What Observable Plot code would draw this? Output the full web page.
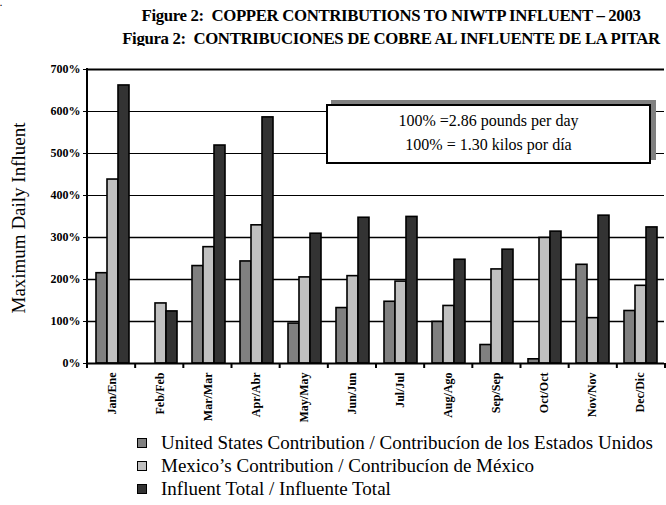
<!DOCTYPE html>
<html>
<head>
<meta charset="utf-8">
<script src="https://cdn.jsdelivr.net/npm/d3@7"></script>
<script src="https://cdn.jsdelivr.net/npm/@observablehq/plot@0.6"></script>
<style>
  html, body { margin: 0; padding: 0; background: #fff; }
  #page { position: relative; width: 666px; height: 505px; font-family: "Liberation Serif", "Times New Roman", serif; color: #000; }
  #dot { position: absolute; left: 0; top: 0; font-size: 8px; line-height: 8px; font-weight: bold; }
  #title { position: absolute; left: 90px; width: 602px; top: 4px; text-align: center; font-weight: bold; font-size: 16.8px; line-height: 23px; letter-spacing: -0.35px; }
  #chart { position: absolute; left: 0; top: 46px; }
  #ytitle { position: absolute; left: 19px; top: 218px; transform: translate(-50%, -50%) rotate(-90deg); white-space: nowrap; font-size: 19px; }
  #note { position: absolute; left: 326px; top: 104px; width: 321px; height: 53px; border: 2px solid #000; background: #fff; box-shadow: 5px -4px 0 #808080; text-align: center; font-size: 16px; line-height: 24px; padding-top: 3px; box-sizing: content-box; }
  #legend { position: absolute; left: 137px; top: 431px; font-size: 19px; line-height: 23px; }
  .item { display: flex; align-items: center; white-space: nowrap; }
  .sw { width: 8px; height: 8px; border: 1.5px solid #000; margin-right: 14px; flex: none; }
</style>
</head>
<body>
<div id="page">
  <div id="dot">.</div>
  <div id="title"></div>
  <div id="chart"></div>
  <div id="ytitle"></div>
  <div id="note"></div>
  <div id="legend"></div>
</div>
<script>
// Monthly copper contributions, as % of the 100% reference load
const months = ["Jan/Ene", "Feb/Feb", "Mar/Mar", "Apr/Abr", "May/May", "Jun/Jun",
                "Jul/Jul", "Aug/Ago", "Sep/Sep", "Oct/Oct", "Nov/Nov", "Dec/Dic"];
const seriesKeys = ["us", "mx", "total"];
const seriesLabels = [
  "United States Contribution / Contribucíon de los Estados Unidos",
  "Mexico’s Contribution / Contribucíon de México",
  "Influent Total / Influente Total"
];
const seriesColors = ["#808080", "#c0c0c0", "#333333"];
const usValues    = [215, 0, 232, 243, 95, 132, 147, 99, 44, 10, 235, 125];
const mexicoValues = [438, 143, 277, 329, 205, 208, 195, 137, 224, 299, 108, 185];
const totalValues = [662, 124, 519, 586, 309, 347, 349, 247, 271, 314, 352, 324];
const yTicks = [0, 100, 200, 300, 400, 500, 600, 700];
const titleLines = [
  "Figure 2:&nbsp; COPPER CONTRIBUTIONS TO NIWTP INFLUENT – 2003",
  "Figura 2:&nbsp; CONTRIBUCIONES DE COBRE AL INFLUENTE DE LA PITAR"
];
const yTitle = "Maximum Daily Influent";
const noteLines = ["100% =2.86 pounds per day", "100% = 1.30 kilos por día"];

const seriesValues = [usValues, mexicoValues, totalValues];
const rows = months.flatMap((m, i) =>
  seriesKeys.map((k, j) => ({month: m, series: k, value: seriesValues[j][i]})));

const serif = "'Liberation Serif', 'Times New Roman', serif";

const chart = Plot.plot({
  width: 666,
  height: 392,
  marginTop: 23,
  marginLeft: 87,
  marginRight: 1,
  marginBottom: 75,
  style: {fontFamily: serif, background: "white", color: "black", overflow: "visible"},
  fx: {domain: months, padding: 0, label: null},
  x: {domain: seriesKeys, paddingInner: 0, paddingOuter: 0.55, axis: null},
  y: {domain: [0, 700], axis: null},
  color: {domain: seriesKeys, range: seriesColors},
  marks: [
    Plot.ruleY(yTicks.filter(v => v >= 400 && v < 700), {stroke: "black", strokeWidth: 1}),
    Plot.ruleY(yTicks.filter(v => v > 0 && v < 400), {stroke: "black", strokeWidth: 1.6}),
    Plot.ruleY([700], {stroke: "black", strokeWidth: 2}),
    Plot.barY(rows, {fx: "month", x: "series", y: "value", fill: "series",
                     stroke: "black", strokeWidth: 1.6}),
    Plot.ruleY([0], {stroke: "black", strokeWidth: 2}),
    Plot.axisY({ticks: yTicks, tickFormat: d => `${d}%`, tickSize: 5, tickPadding: 3,
                tickStrokeWidth: 2, fontSize: 12, fontWeight: "bold", label: null}),
    Plot.axisFx({anchor: "bottom", tickSize: 0, tickRotate: -90, tickPadding: 9,
                 fontSize: 12, fontWeight: "bold", label: null})
  ]
});

// Left axis line and the month-boundary ticks below the baseline
const svg = d3.select(chart);
const ys = chart.scale("y");
const fxs = chart.scale("fx");
const yScale = d3.scaleLinear(ys.domain, ys.range);
const fxScale = d3.scaleBand(fxs.domain, fxs.range)
  .paddingInner(fxs.paddingInner ?? 0)
  .paddingOuter(fxs.paddingOuter ?? 0)
  .align(fxs.align ?? 0.5);
const x0 = fxScale(months[0]);
const yBase = yScale(0);
const edges = months.map(m => fxScale(m)).concat([fxScale(months[months.length - 1]) + fxScale.bandwidth()]);
const g = svg.append("g").attr("stroke", "black");
g.append("line").attr("x1", x0).attr("x2", x0)
  .attr("y1", yScale(700) - 1).attr("y2", yBase + 5).attr("stroke-width", 2);
g.selectAll(".edge").data(edges.slice(1)).join("line")
  .attr("x1", d => d).attr("x2", d => d)
  .attr("y1", yBase).attr("y2", yBase + 5).attr("stroke-width", 2);

document.getElementById("chart").appendChild(chart);

document.getElementById("title").innerHTML = titleLines.join("<br>");
document.getElementById("ytitle").textContent = yTitle;
document.getElementById("note").innerHTML = noteLines.join("<br>");

const legend = d3.select("#legend");
seriesKeys.forEach((k, i) => {
  const item = legend.append("div").attr("class", "item");
  item.append("div").attr("class", "sw").style("background", seriesColors[i]);
  item.append("span").text(seriesLabels[i]);
});
</script>
</body>
</html>
